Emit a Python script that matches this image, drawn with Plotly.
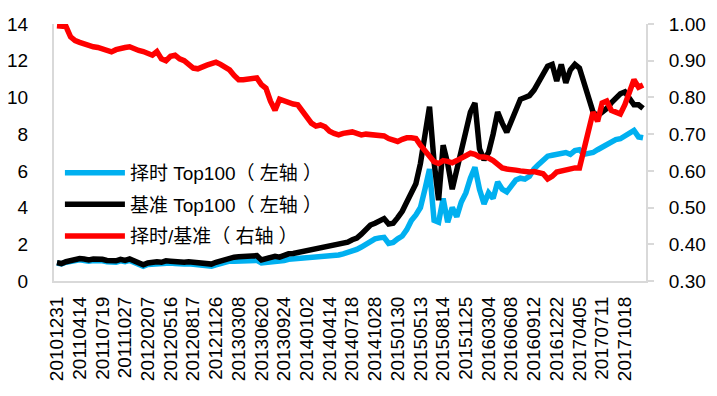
import plotly.graph_objects as go

tick_labels = ["20101231", "20110414", "20110719", "20111027", "20120207", "20120516",
               "20120817", "20121126", "20130308", "20130620", "20130924", "20140102",
               "20140414", "20140718", "20141028", "20150130", "20150513", "20150814",
               "20151125", "20160304", "20160608", "20160912", "20161222", "20170405",
               "20170711", "20171018"]
label_step = 5  # samples between labelled dates

timing_top100 = [
    0.98, 0.93, 1.02, 1.08, 1.12, 1.15, 1.12, 1.08, 1.12, 1.14,
    1.10, 1.05, 1.00, 1.02, 1.10, 1.05, 1.12, 1.02, 0.88, 0.80,
    0.90, 0.93, 0.96, 0.93, 1.00, 0.98, 0.95, 0.90, 0.92, 0.94,
    0.90, 0.88, 0.86, 0.84, 0.80, 0.88, 0.95, 1.00, 1.08, 1.08,
    1.10, 1.12, 1.14, 1.15, 1.12, 0.98, 1.00, 1.05, 1.08, 1.05,
    1.12, 1.18, 1.20, 1.22, 1.24, 1.26, 1.28, 1.28, 1.32, 1.38,
    1.40, 1.42, 1.42, 1.48, 1.55, 1.65, 1.72, 1.85, 2.00, 2.20,
    2.30, 2.35, 2.38, 2.05, 2.10, 2.30, 2.45, 2.80, 3.30, 3.60,
    4.00, 5.00, 6.10, 3.30, 3.20, 4.50, 3.20, 4.00, 3.50, 4.30,
    4.80, 5.60, 6.20, 5.00, 4.20, 4.80, 4.50, 5.40, 5.00, 4.85,
    5.20, 5.50, 5.60, 5.55, 5.70, 6.10, 6.35, 6.60, 6.80, 6.85,
    6.90, 6.95, 7.00, 6.90, 7.10, 7.15, 6.90, 6.95, 7.00, 7.15,
    7.30, 7.40, 7.55, 7.70, 7.75, 7.90, 8.05, 8.20, 7.85, 7.80]

benchmark_top100 = [
    1.00, 0.95, 1.05, 1.12, 1.18, 1.22, 1.20, 1.15, 1.20, 1.22,
    1.18, 1.12, 1.08, 1.10, 1.18, 1.12, 1.20, 1.10, 0.95, 0.88,
    0.98, 1.02, 1.05, 1.02, 1.10, 1.08, 1.05, 1.00, 1.02, 1.05,
    1.02, 1.00, 0.98, 0.96, 0.92, 1.02, 1.10, 1.18, 1.28, 1.30,
    1.32, 1.35, 1.38, 1.40, 1.38, 1.15, 1.20, 1.30, 1.35, 1.30,
    1.40, 1.48, 1.50, 1.55, 1.60, 1.65, 1.70, 1.72, 1.78, 1.85,
    1.90, 1.93, 1.96, 2.02, 2.12, 2.25, 2.34, 2.55, 2.80, 3.05,
    3.15, 3.30, 3.40, 3.10, 3.15, 3.45, 3.80, 4.30, 4.80, 5.30,
    6.40, 8.00, 9.50, 6.50, 4.40, 7.40, 6.40, 5.00, 6.00, 7.20,
    8.30, 9.20, 9.70, 7.20, 6.60, 7.00, 8.00, 9.20, 8.60, 8.10,
    8.70, 9.30, 9.90, 10.00, 10.10, 10.40, 10.80, 11.20, 11.70, 11.80,
    10.90, 11.80, 10.80, 11.50, 11.80, 11.60, 10.80, 9.90, 9.20, 9.00,
    9.20, 9.40, 9.70, 10.00, 10.20, 10.30, 10.00, 9.60, 9.60, 9.40]

ratio = [
    0.995, 0.995, 0.993, 0.965, 0.955, 0.950, 0.945, 0.942, 0.938, 0.936,
    0.932, 0.928, 0.924, 0.930, 0.935, 0.936, 0.938, 0.932, 0.928, 0.925,
    0.918, 0.915, 0.925, 0.905, 0.900, 0.912, 0.915, 0.905, 0.900, 0.890,
    0.880, 0.878, 0.885, 0.888, 0.892, 0.896, 0.890, 0.882, 0.875, 0.860,
    0.848, 0.848, 0.850, 0.852, 0.853, 0.835, 0.825, 0.790, 0.765, 0.795,
    0.790, 0.785, 0.782, 0.780, 0.765, 0.750, 0.730, 0.722, 0.725, 0.720,
    0.708, 0.702, 0.698, 0.702, 0.705, 0.706, 0.702, 0.698, 0.700, 0.699,
    0.698, 0.697, 0.695, 0.688, 0.684, 0.680, 0.686, 0.690, 0.690, 0.688,
    0.670, 0.655, 0.635, 0.625, 0.620, 0.628, 0.626, 0.622, 0.628, 0.635,
    0.642, 0.648, 0.645, 0.638, 0.638, 0.635, 0.628, 0.618, 0.608, 0.605,
    0.605, 0.602, 0.600, 0.598, 0.597, 0.598, 0.596, 0.592, 0.578, 0.585,
    0.597, 0.600, 0.605, 0.608, 0.608, 0.608, 0.660, 0.710, 0.760, 0.735,
    0.785, 0.790, 0.765, 0.760, 0.755, 0.780, 0.810, 0.848, 0.828, 0.834]

n = len(ratio)
x = list(range(n))
tickvals = [i * label_step for i in range(len(tick_labels))]

FONT = "Liberation Sans, Arial, sans-serif"
CJK = "Liberation Sans, Noto Sans CJK SC, sans-serif"
AXIS = "#D9D9D9"

fig = go.Figure()
fig.add_trace(go.Scatter(x=x, y=timing_top100, mode="lines", name="择时 Top100（ 左轴 ）",
                         legendgroup="a", line=dict(color="#00B0F0", width=5.5)))
fig.add_trace(go.Scatter(x=x, y=benchmark_top100, mode="lines", name="基准 Top100（ 左轴 ）",
                         legendgroup="b", line=dict(color="#000000", width=5.5)))
fig.add_trace(go.Scatter(x=x, y=ratio, mode="lines", name="择时/基准（ 右轴 ）", yaxis="y2",
                         legendgroup="c", line=dict(color="#FF0000", width=5.5)))

# page body adds an 8px offset, so the figure is sized/margined to compensate
fig.update_layout(
    width=709, height=388,
    margin=dict(l=46, r=71, t=16, b=115),
    paper_bgcolor="white", plot_bgcolor="white",
    font=dict(family=FONT, size=19, color="#000000"),
    showlegend=True,
    legend=dict(x=0.01, y=0.495, xanchor="left", yanchor="top",
                bgcolor="rgba(0,0,0,0)", font=dict(family=CJK, size=19),
                traceorder="grouped", tracegroupgap=4, itemwidth=60),
    xaxis=dict(range=[-0.65, n - 0.35], tickvals=tickvals, ticktext=tick_labels,
               tickangle=-90, showgrid=False, zeroline=False, automargin=False,
               showline=True, linecolor=AXIS, linewidth=2, ticks="",
               tickfont=dict(size=19), ticklabelstandoff=6),
    yaxis=dict(range=[0, 14], dtick=2, showgrid=False, zeroline=False, automargin=False,
               showline=True, linecolor=AXIS, linewidth=2, ticks="",
               tickfont=dict(size=19), ticklabelstandoff=20),
    yaxis2=dict(range=[0.3, 1.0], dtick=0.1, tickformat=".2f", overlaying="y",
                side="right", showgrid=False, zeroline=False, automargin=False,
                showline=True, linecolor=AXIS, linewidth=2,
                ticks="outside", ticklen=6, tickcolor=AXIS, tickwidth=2,
                tickfont=dict(size=19), ticklabelstandoff=11),
)

fig.write_html("out.html")
